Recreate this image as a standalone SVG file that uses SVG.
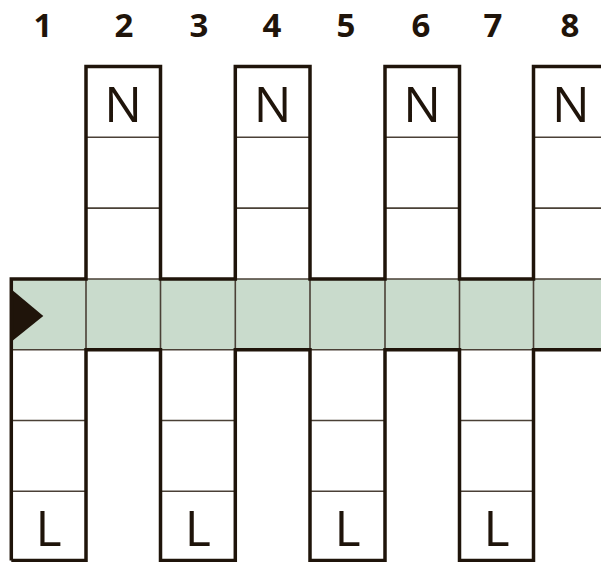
<svg xmlns="http://www.w3.org/2000/svg" width="601" height="562" viewBox="0 0 601 562">
<style>
.thick{fill:none;stroke:#1f140a;stroke-width:3.5;stroke-linejoin:miter}
.thin{fill:none;stroke:#4a4036;stroke-width:1.6}
.num{font-family:"Open Sans","Noto Sans",sans-serif;font-weight:bold;font-size:33px;fill:#1f140a;text-anchor:middle}
.let{font-family:"Open Sans","Noto Sans",sans-serif;font-size:50px;fill:#1f140a;text-anchor:middle}
</style>
<rect x="0" y="0" width="601" height="562" fill="#ffffff"/>
<g id="numbers">
<text class="num" x="43" y="37">1</text>
<text class="num" x="124" y="37">2</text>
<text class="num" x="199" y="37">3</text>
<text class="num" x="272" y="37">4</text>
<text class="num" x="346" y="37">5</text>
<text class="num" x="421" y="37">6</text>
<text class="num" x="493" y="37">7</text>
<text class="num" x="570" y="37">8</text>
</g>
<g id="band">
<rect x="11.3" y="279" width="600" height="70.7" fill="#c9dbcc"/>
<path class="thin" d="M86 279V349.7M160.5 279V349.7M235.3 279V349.7M310 279V349.7M385 279V349.7M459.5 279V349.7M533.5 279V349.7"/>
<polygon points="11.3,289.3 43.3,316 11.3,341.7" fill="#1f140a"/>
</g>
<g id="col2">
<path class="thin" d="M86 137.3H160.5M86 208.1H160.5M86 279H160.5"/>
<text class="let" x="123.2" y="121.7">N</text>
</g>
<g id="col4">
<path class="thin" d="M235.3 137.3H310M235.3 208.1H310M235.3 279H310"/>
<text class="let" x="272.6" y="121.7">N</text>
</g>
<g id="col6">
<path class="thin" d="M385 137.3H459.5M385 208.1H459.5M385 279H459.5"/>
<text class="let" x="422.2" y="121.7">N</text>
</g>
<g id="col8">
<path class="thin" d="M533.5 137.3H610M533.5 208.1H610M533.5 279H610"/>
<text class="let" x="570.8" y="121.7">N</text>
</g>
<g id="col1">
<path class="thin" d="M11.3 349.7H86M11.3 420.5H86M11.3 491.3H86"/>
<text class="let" x="48.6" y="546">L</text>
</g>
<g id="col3">
<path class="thin" d="M160.5 349.7H235.3M160.5 420.5H235.3M160.5 491.3H235.3"/>
<text class="let" x="197.9" y="546">L</text>
</g>
<g id="col5">
<path class="thin" d="M310 349.7H385M310 420.5H385M310 491.3H385"/>
<text class="let" x="347.5" y="546">L</text>
</g>
<g id="col7">
<path class="thin" d="M459.5 349.7H533.5M459.5 420.5H533.5M459.5 491.3H533.5"/>
<text class="let" x="496.5" y="546">L</text>
</g>
<g id="outline">
<path class="thick" d="M11.3 560.5V279H86V66.5H160.5V279H235.3V66.5H310V279H385V66.5H459.5V279H533.5V66.5H612"/>
<path class="thick" d="M11.3 560.5H86V349.7H160.5V560.5H235.3V349.7H310V560.5H385V349.7H459.5V560.5H533.5V349.7H612"/>
</g>
</svg>
